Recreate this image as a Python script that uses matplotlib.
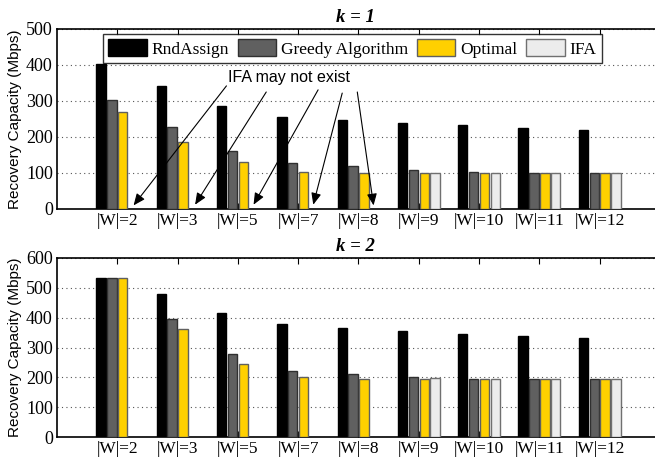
import numpy as np
import matplotlib
matplotlib.use('Agg')
import matplotlib.pyplot as plt

groups = ['|W|=2', '|W|=3', '|W|=5', '|W|=7', '|W|=8', '|W|=9', '|W|=10', '|W|=11', '|W|=12']
series = ['RndAssign', 'Greedy Algorithm', 'Optimal', 'IFA']

# k = 1
rnd_k1 = [403, 342, 286, 256, 247, 239, 233, 226, 220]
greedy_k1 = [302, 228, 161, 129, 119, 108, 102, 100, 100]
optimal_k1 = [269, 186, 130, 102, 100, 100, 100, 100, 100]
ifa_k1 = [np.nan, np.nan, np.nan, np.nan, np.nan, 100, 100, 100, 100]

# k = 2
rnd_k2 = [534, 479, 415, 378, 366, 356, 346, 339, 333]
greedy_k2 = [534, 394, 279, 221, 210, 200, 195, 195, 195]
optimal_k2 = [534, 363, 246, 200, 195, 194, 194, 194, 194]
ifa_k2 = [np.nan, np.nan, np.nan, np.nan, np.nan, 198, 195, 195, 195]

colors = ['#000000', '#606060', '#ffd000', '#ececec']
edges = ['#000000', '#303030', '#606060', '#707070']

serif = 'Liberation Serif'
sans = 'Liberation Sans'

fig = plt.figure(figsize=(6.55, 4.62), dpi=100)
W, H = 655.0, 462.0
ax1 = fig.add_axes([57 / W, 1 - 209 / H, 603 / W, 180 / H])
ax2 = fig.add_axes([57 / W, 1 - 437 / H, 603 / W, 179 / H])

x = np.arange(len(groups))
step = 0.18
bw = 0.155


def draw(ax, data, ymax, title):
  for j, vals in enumerate(data):
    ax.bar(x + (j - 1.5) * step, vals, bw, color=colors[j], edgecolor=edges[j],
           linewidth=1.0, label=series[j], zorder=3)
  ax.set_xlim(-1, 9)
  ax.set_ylim(0, ymax)
  ax.set_yticks(np.arange(0, ymax + 1, 100))
  ax.set_xticks(x)
  ax.set_xticklabels(groups, fontfamily=serif, fontsize=12.5)
  for lab in ax.get_yticklabels():
    lab.set_fontfamily(serif)
    lab.set_fontsize(13)
  ax.tick_params(axis='x', direction='in', length=4, top=True, bottom=True, pad=3)
  ax.tick_params(axis='y', direction='in', length=0, pad=3)
  ax.yaxis.grid(True, linestyle=(0, (1, 3)), color='#555555', linewidth=0.8, zorder=0)
  ax.set_axisbelow(True)
  ax.spines['right'].set_visible(False)
  for s in ['left', 'top', 'bottom']:
    ax.spines[s].set_linewidth(1.2)
  ax.set_ylabel('Recovery Capacity (Mbps)', fontfamily=sans, fontsize=11, labelpad=3)
  ax.set_title(title, fontfamily=serif, fontstyle='italic', fontweight='bold',
               fontsize=13.5, pad=5)


draw(ax1, [rnd_k1, greedy_k1, optimal_k1, ifa_k1], 500, 'k = 1')
draw(ax2, [rnd_k2, greedy_k2, optimal_k2, ifa_k2], 600, 'k = 2')
ax1.title.set_position((0.495, 1.0))
ax2.title.set_position((0.495, 1.0))

leg = ax1.legend(loc='upper center', bbox_to_anchor=(0.49, 0.99), ncol=4,
                 prop={'family': serif, 'size': 12.5}, frameon=True, fancybox=False,
                 edgecolor='black', handlelength=2.2, handleheight=1.1,
                 handletextpad=0.3, columnspacing=0.5, borderpad=0.3,
                 borderaxespad=0.2)
leg.get_frame().set_linewidth(1.0)
leg.set_zorder(5)

# annotation: IFA may not exist
ax1.text(2.84, 364, 'IFA may not exist', fontfamily=sans, fontsize=11.5,
         ha='center', va='center', zorder=6)
starts = [(1.81, 342), (2.47, 325), (3.33, 331), (3.73, 322), (3.98, 325)]
tips = [(0.27, 10), (1.29, 12), (2.26, 12), (3.25, 12), (4.25, 10)]
for s, t in zip(starts, tips):
  ax1.annotate('', xy=t, xytext=s,
               arrowprops=dict(arrowstyle='-|>,head_length=0.7,head_width=0.3',
                               color='black', lw=0.8, shrinkA=0, shrinkB=0),
               zorder=6)

fig.savefig('out.png', dpi=100)
